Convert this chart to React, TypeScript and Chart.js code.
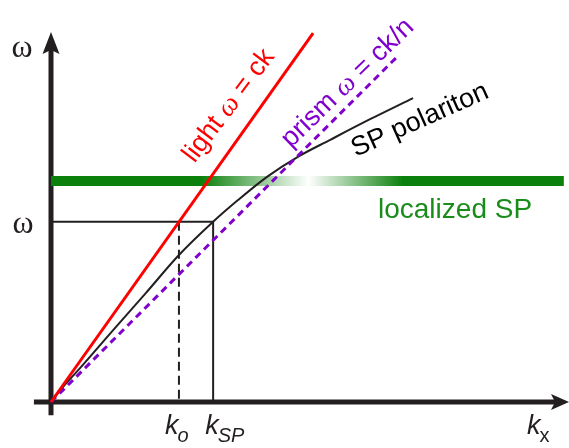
import React, { useEffect, useRef } from "react";
import { Chart, registerables } from "chart.js";
Chart.register(...registerables);

// ---- data (arbitrary units: k along x, ω along y) ----
const lightK = [0, 5.06];
const lightW = [0, 6.98];
const prismK = [0, 6.66];
const prismW = [0, 6.51];
const spK = [0, 0.21, 0.56, 1.2, 1.83, 2.47, 3.13, 3.61, 4.17, 4.75, 5.39, 6.16, 6.99];
const spW = [0, 0.26, 0.64, 1.36, 2.06, 2.78, 3.41, 3.82, 4.26, 4.63, 4.96, 5.35, 5.75];
const omegaLevel = 3.41;
const k0 = 2.47;
const kSP = 3.13;
const localizedW = 4.18;
const localizedK = [0, 9.9];
const fadeK = [2.9, 4.97, 6.8]; // green -> white -> green
const xRange = [0, 10];
const yRange = [0, 7];

const GREEN = "#0b800b";
const RED = "#ff0000";
const PURPLE = "#8000cc";
const AXIS = "#231f20";

const pts = (xs: number[], ys: number[]) => xs.map((x, i) => ({ x, y: ys[i] }));

function drawParts(ctx: CanvasRenderingContext2D, parts: { t: string; f: string }[], x: number, y: number, angle: number, color: string) {
  ctx.save();
  ctx.translate(x, y);
  ctx.rotate((angle * Math.PI) / 180);
  ctx.fillStyle = color;
  ctx.textBaseline = "alphabetic";
  ctx.textAlign = "left";
  let total = 0;
  for (const p of parts) {
    ctx.font = p.f;
    total += ctx.measureText(p.t).width;
  }
  let cx = -total / 2;
  for (const p of parts) {
    ctx.font = p.f;
    ctx.fillText(p.t, cx, 0);
    cx += ctx.measureText(p.t).width;
  }
  ctx.restore();
}

const SANS = "Liberation Sans, Arial, sans-serif";
const SERIF = "Liberation Serif, Times New Roman, serif";

const decorPlugin = {
  id: "decor",
  beforeDatasetsDraw(chart: any) {
    const { ctx, scales } = chart;
    const xs = scales.x, ys = scales.y;
    const ox = xs.getPixelForValue(0), oy = ys.getPixelForValue(0);
    ctx.save();
    ctx.strokeStyle = AXIS;
    ctx.fillStyle = AXIS;
    ctx.lineWidth = 5;
    // y axis
    const yTop = ys.getPixelForValue(yRange[1]);
    ctx.beginPath();
    ctx.moveTo(ox, ys.getPixelForValue(-0.25));
    ctx.lineTo(ox, yTop + 18);
    ctx.stroke();
    ctx.beginPath();
    ctx.moveTo(ox, yTop);
    ctx.lineTo(ox - 8.5, yTop + 22);
    ctx.lineTo(ox, yTop + 18);
    ctx.lineTo(ox + 8.5, yTop + 22);
    ctx.closePath();
    ctx.fill();
    // x axis
    const xEnd = xs.getPixelForValue(xRange[1]);
    ctx.beginPath();
    ctx.moveTo(xs.getPixelForValue(-0.33), oy);
    ctx.lineTo(xEnd - 14, oy);
    ctx.stroke();
    ctx.beginPath();
    ctx.moveTo(xEnd, oy);
    ctx.lineTo(xEnd - 18, oy - 8);
    ctx.lineTo(xEnd - 14, oy);
    ctx.lineTo(xEnd - 18, oy + 8);
    ctx.closePath();
    ctx.fill();
    ctx.restore();
  },
  afterDatasetsDraw(chart: any) {
    const { ctx, scales } = chart;
    const xs = scales.x, ys = scales.y;
    const px = (v: number) => xs.getPixelForValue(v);
    const py = (v: number) => ys.getPixelForValue(v);
    // rotated labels
    drawParts(ctx, [
      { t: "light ", f: `27px ${SANS}` },
      { t: "ω", f: `italic 27px ${SERIF}` },
      { t: " = ck", f: `27px ${SANS}` },
    ], px(3.55), py(5.52), -53, RED);
    drawParts(ctx, [
      { t: "prism ", f: `27px ${SANS}` },
      { t: "ω", f: `italic 27px ${SERIF}` },
      { t: " = ck/n", f: `27px ${SANS}` },
    ], px(5.83), py(5.93), -44, PURPLE);
    drawParts(ctx, [{ t: "SP polariton", f: `27px ${SANS}` }], px(7.18), py(5.2), -24, "#000");
    drawParts(ctx, [{ t: "localized SP", f: `28px ${SANS}` }], px(7.8), py(3.48), 0, "#1a8c1a");
    // axis labels
    ctx.save();
    ctx.fillStyle = "#231f20";
    ctx.textBaseline = "alphabetic";
    ctx.textAlign = "center";
    ctx.font = `32px ${SERIF}`;
    ctx.fillText("ω", px(-0.56), py(6.53));
    ctx.fillText("ω", px(-0.54), py(3.2));
    const sub = (x: number, main: string, s: string, subItalic: boolean) => {
      ctx.textAlign = "left";
      ctx.font = `italic 27px ${SANS}`;
      ctx.fillText(main, x, py(0) + 32);
      const w = ctx.measureText(main).width;
      ctx.font = `${subItalic ? "italic " : ""}20px ${SANS}`;
      ctx.fillText(s, x + w - 1, py(0) + 40);
    };
    sub(px(k0) - 14, "k", "o", true);
    sub(px(kSP) - 8, "k", "SP", true);
    sub(px(9.19), "k", "x", false);
    ctx.restore();
  },
};

export default function App() {
  const ref = useRef<HTMLCanvasElement | null>(null);
  useEffect(() => {
    if (!ref.current) return;
    const gradient = (c: any) => {
      const chart = c.chart;
      if (!chart.chartArea) return GREEN;
      const xs = chart.scales.x;
      const x0 = xs.getPixelForValue(localizedK[0]);
      const x1 = xs.getPixelForValue(localizedK[1]);
      const g = chart.ctx.createLinearGradient(x0, 0, x1, 0);
      const span = localizedK[1] - localizedK[0];
      g.addColorStop(0, GREEN);
      g.addColorStop((fadeK[0] - localizedK[0]) / span, GREEN);
      g.addColorStop((fadeK[1] - localizedK[0]) / span, "#ffffff");
      g.addColorStop((fadeK[2] - localizedK[0]) / span, GREEN);
      g.addColorStop(1, GREEN);
      return g;
    };
    const chart = new Chart(ref.current, {
      type: "scatter",
      data: {
        datasets: [
          { data: pts(lightK, lightW), showLine: true, borderColor: RED, borderWidth: 3, pointRadius: 0, clip: false, order: 1 } as any,
          { data: pts(prismK, prismW), showLine: true, borderColor: PURPLE, borderWidth: 3, borderDash: [7, 5], pointRadius: 0, clip: false, order: 2 },
          { data: pts(spK, spW), showLine: true, borderColor: "#231f20", borderWidth: 2, cubicInterpolationMode: "monotone", pointRadius: 0, clip: false, order: 3 },
          { data: [{ x: 0, y: omegaLevel }, { x: kSP, y: omegaLevel }, { x: kSP, y: 0 }], showLine: true, borderColor: "#231f20", borderWidth: 2, pointRadius: 0, clip: false, order: 4 },
          { data: [{ x: k0, y: omegaLevel }, { x: k0, y: 0 }], showLine: true, borderColor: "#231f20", borderWidth: 2, borderDash: [9, 5], pointRadius: 0, clip: false, order: 5 },
          { data: [{ x: localizedK[0], y: localizedW }, { x: localizedK[1], y: localizedW }], showLine: true, borderColor: gradient, borderWidth: 10, borderCapStyle: "butt", pointRadius: 0, clip: false, order: 6 },
        ],
      },
      options: {
        animation: false,
        responsive: false,
        devicePixelRatio: 1,
        layout: { padding: { left: 51, right: 0, top: 32, bottom: 46 } },
        plugins: { legend: { display: false }, tooltip: { enabled: false } },
        scales: {
          x: { type: "linear", min: xRange[0], max: xRange[1], display: false },
          y: { type: "linear", min: yRange[0], max: yRange[1], display: false },
        },
      },
      plugins: [decorPlugin],
    });
    return () => chart.destroy();
  }, []);
  return (
    <div style={{ position: "absolute", left: 0, top: 0, width: 569, height: 448, background: "#fff" }}>
      <canvas ref={ref} width={569} height={448} />
    </div>
  );
}
